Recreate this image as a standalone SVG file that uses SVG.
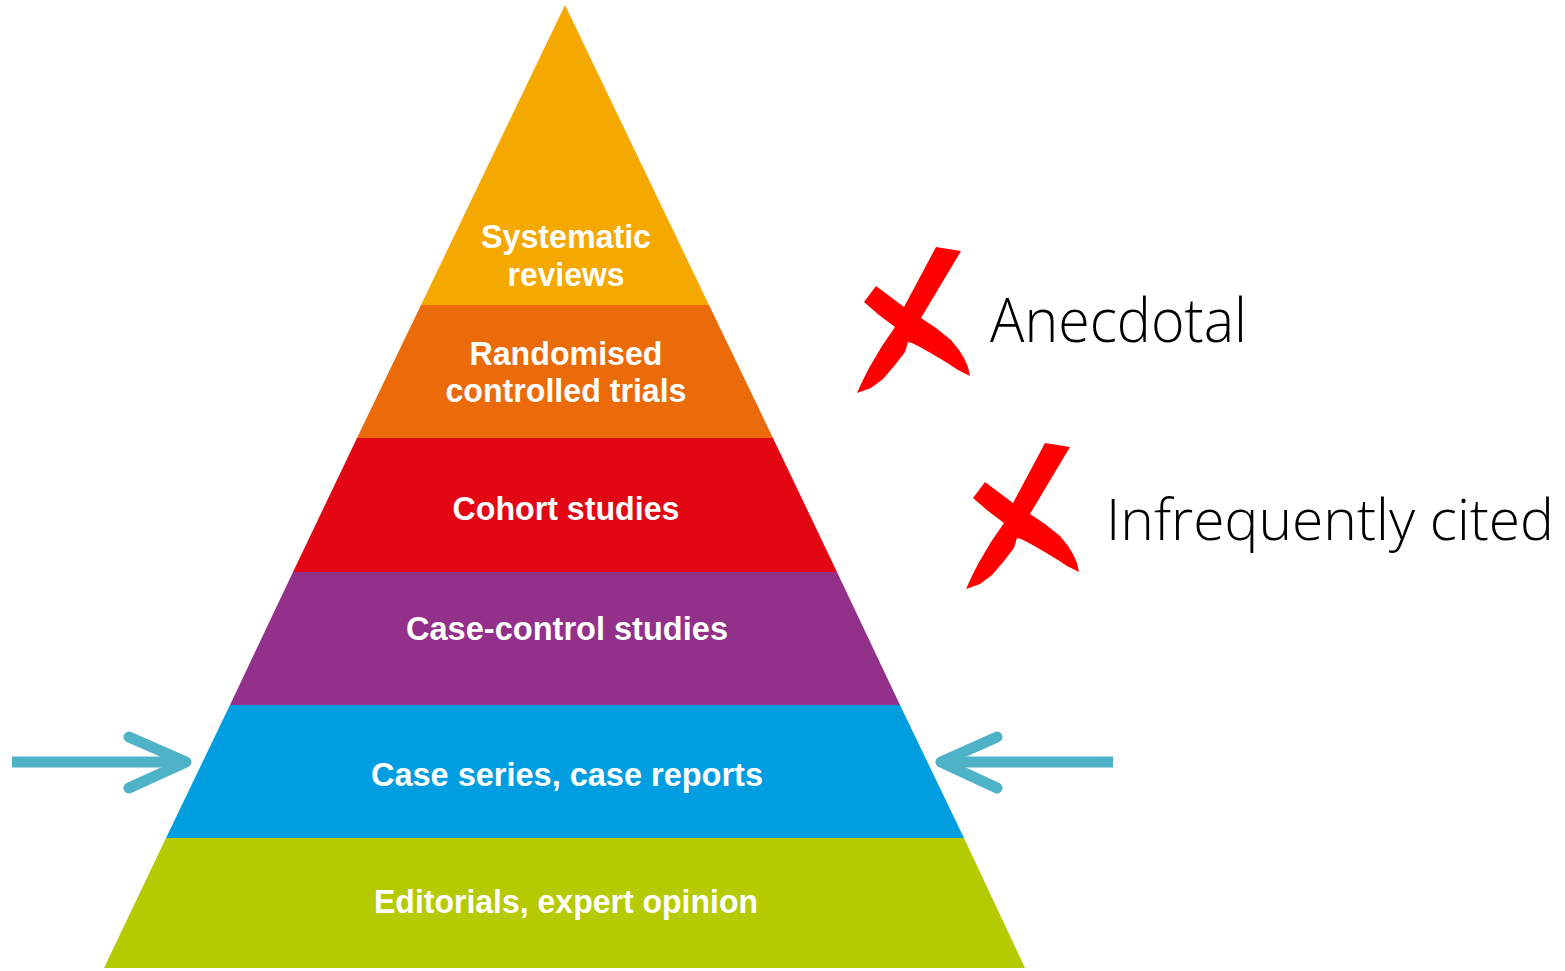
<svg xmlns="http://www.w3.org/2000/svg" width="1565" height="971" viewBox="0 0 1565 971">
<defs>
<style>
.lbl{font-family:"Liberation Sans",Arial,sans-serif;font-weight:bold;font-size:33px;fill:#ffffff;text-anchor:middle}
.side{font-family:"Open Sans","Liberation Sans",sans-serif;font-weight:300;font-size:60px;fill:#000000}
.arr{fill:none;stroke:#4FB3C8;stroke-width:11;stroke-linecap:round;stroke-linejoin:round}
.cross{fill:#FF0000}
</style>
<path id="xmark" class="cross" d="M936,247 L961,251 L921,318 L936,328 L951,340 L959,350 L964,358 L968,367 L970,376 L958,370 L949,364 L934,355 L920,347 L912,343 L908,342 L905,352 L895,365 L883,379 L871,388 L857,393 L862,382 L869,368 L882,346 L895,327 L879,315 L864,302 L876,286 L904,307 Z"/>
</defs>
<rect width="1565" height="971" fill="#ffffff"/>
<g id="layer-systematic">
<polygon points="565,5 709,305 421,305" fill="#F5A800"/>
<text class="lbl" x="566" y="248" textLength="170" lengthAdjust="spacingAndGlyphs">Systematic</text>
<text class="lbl" x="566" y="286" textLength="117" lengthAdjust="spacingAndGlyphs">reviews</text>
</g>
<g id="layer-rct">
<polygon points="421,305 709,305 773,438 357,438" fill="#EB6A0A"/>
<text class="lbl" x="566" y="365" textLength="193" lengthAdjust="spacingAndGlyphs">Randomised</text>
<text class="lbl" x="566" y="402" textLength="241" lengthAdjust="spacingAndGlyphs">controlled trials</text>
</g>
<g id="layer-cohort">
<polygon points="357,438 773,438 837,572 293,572" fill="#E30613"/>
<text class="lbl" x="566" y="520" textLength="227" lengthAdjust="spacingAndGlyphs">Cohort studies</text>
</g>
<g id="layer-casecontrol">
<polygon points="293,572 837,572 900,705 230,705" fill="#93308A"/>
<text class="lbl" x="567" y="640" textLength="322" lengthAdjust="spacingAndGlyphs">Case-control studies</text>
</g>
<g id="layer-caseseries">
<polygon points="230,705 900,705 964,838 166,838" fill="#009EE0"/>
<text class="lbl" x="567" y="786" textLength="392" lengthAdjust="spacingAndGlyphs">Case series, case reports</text>
</g>
<g id="layer-editorials">
<polygon points="166,838 964,838 1025,968 104,968" fill="#B5CA00"/>
<text class="lbl" x="566" y="913" textLength="384" lengthAdjust="spacingAndGlyphs">Editorials, expert opinion</text>
</g>
<g id="connectors">
<line class="arr" x1="12" y1="762" x2="182" y2="762" style="stroke-linecap:butt"/>
<polyline class="arr" points="129,737 186,762 129,788"/>
<line class="arr" x1="1113" y1="762" x2="945" y2="762" style="stroke-linecap:butt"/>
<polyline class="arr" points="997,737 941,762 997,788"/>
</g>
<g id="note-anecdotal">
<use href="#xmark"/>
<text class="side" x="990" y="342" textLength="257" lengthAdjust="spacingAndGlyphs">Anecdotal</text>
</g>
<g id="note-infrequent">
<use href="#xmark" transform="translate(109,196)"/>
<text class="side" x="1106" y="540" style="font-size:57px" textLength="448" lengthAdjust="spacingAndGlyphs">Infrequently cited</text>
</g>
</svg>
